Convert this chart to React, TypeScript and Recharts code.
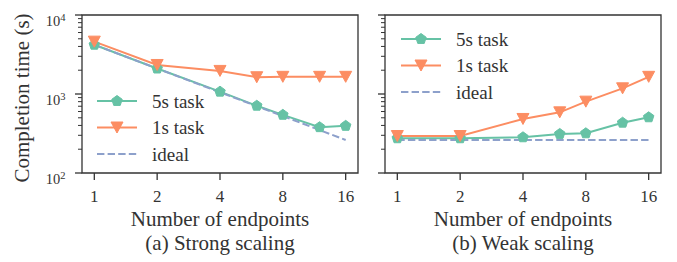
import { LineChart, Line, XAxis, YAxis, ReferenceArea } from "recharts";

// endpoints on the x axis
const endpoints = [1, 2, 4, 6, 8, 12, 16];
const xTicks = [1, 2, 4, 8, 16];
const yTicks = [100, 200, 300, 400, 500, 600, 700, 800, 900, 1000, 2000, 3000, 4000, 5000, 6000, 7000, 8000, 9000, 10000];
const yMajor: Record<number, string> = { 100: "2", 1000: "3", 10000: "4" };

// (a) strong scaling, seconds
const strong5s = [4200, 2100, 1070, 710, 545, 380, 395];
const strong1s = [4600, 2330, 1960, 1630, 1650, 1650, 1650];
const strongIdeal = [4200, 2100, 1050, 700, 525, 350, 262];

// (b) weak scaling, seconds
const weak5s = [275, 275, 283, 312, 318, 433, 507];
const weak1s = [294, 294, 483, 586, 800, 1180, 1650];
const weakIdeal = [262, 262, 262, 262, 262, 262, 262];

const FONT = '"Liberation Serif", "Times New Roman", serif';
const INK = "#333333";
const GREEN = "#66c2a5";
const ORANGE = "#fc8d62";
const BLUE = "#8da0cb";
const X_DOMAIN = [0.873, 18.33];
const PLOT_TOP = 15;
const PLOT_BOTTOM = 173;

const Pentagon = ({ cx, cy, r = 5.5, color }: any) => {
    const pts = [0, 1, 2, 3, 4]
        .map((k) => {
            const a = ((-90 + 72 * k) * Math.PI) / 180;
            return `${cx + r * Math.cos(a)},${cy + r * Math.sin(a)}`;
        })
        .join(" ");
    return <polygon points={pts} fill={color} stroke={color} strokeWidth={1} />;
};

const TriDown = ({ cx, cy, color }: any) => (
    <polygon
        points={`${cx - 6},${cy - 5.5} ${cx + 6},${cy - 5.5} ${cx},${cy + 5.5}`}
        fill={color}
        stroke={color}
        strokeWidth={1}
    />
);

const XTick = ({ x, payload }: any) => (
    <g>
        <line x1={x} x2={x} y1={PLOT_BOTTOM} y2={PLOT_BOTTOM + 7} stroke={INK} strokeWidth={1.3} />
        <text x={x} y={PLOT_BOTTOM + 28.5} textAnchor="middle" fontSize={17} fontFamily={FONT} fill={INK}>
            {payload.value}
        </text>
    </g>
);

const makeYTick = (x0: number, showLabel: boolean) => ({ y, payload }: any) => {
    const exp = yMajor[payload.value];
    return (
        <g>
            <line x1={x0} x2={x0 - (exp ? 7 : 4)} y1={y} y2={y} stroke={INK} strokeWidth={exp ? 1.3 : 1} />
            {exp && showLabel && (
                <text x={x0 - 16.5} y={y + 11} textAnchor="end" fontSize={14.5} fontFamily={FONT} fill={INK}>
                    10
                    <tspan dy={-5.5} fontSize={10.5}>
                        {exp}
                    </tspan>
                </text>
            )}
        </g>
    );
};

const Panel = ({ left, width, yAxisWidth, marginRight, s5, s1, ideal, showYLabels }: any) => {
    const rows = endpoints.map((x, i) => ({ x, s5: s5[i], s1: s1[i], ideal: ideal[i] }));
    const YTick = makeYTick(yAxisWidth, showYLabels);
    return (
        <div style={{ position: "absolute", left, top: 0 }}>
            <LineChart width={width} height={262} data={rows} margin={{ top: PLOT_TOP, right: marginRight, left: 0, bottom: 0 }}>
                <XAxis
                    dataKey="x"
                    type="number"
                    scale="log"
                    domain={X_DOMAIN}
                    ticks={xTicks}
                    allowDataOverflow
                    interval={0}
                    axisLine={false}
                    tickLine={false}
                    height={262 - PLOT_BOTTOM}
                    tick={(p: any) => <XTick {...p} />}
                />
                <YAxis
                    type="number"
                    scale="log"
                    domain={[100, 10000]}
                    ticks={yTicks}
                    allowDataOverflow
                    interval={0}
                    axisLine={false}
                    tickLine={false}
                    width={yAxisWidth}
                    tick={(p: any) => <YTick {...p} />}
                />
                <Line
                    dataKey="s5"
                    stroke={GREEN}
                    strokeWidth={2}
                    isAnimationActive={false}
                    dot={(p: any) => <Pentagon key={`p${p.index}`} cx={p.cx} cy={p.cy} color={GREEN} />}
                />
                <Line
                    dataKey="s1"
                    stroke={ORANGE}
                    strokeWidth={2}
                    isAnimationActive={false}
                    dot={(p: any) => <TriDown key={`t${p.index}`} cx={p.cx} cy={p.cy} color={ORANGE} />}
                />
                <Line dataKey="ideal" stroke={BLUE} strokeWidth={2} strokeDasharray="7.4 3.2" dot={false} isAnimationActive={false} />
                <ReferenceArea
                    x1={X_DOMAIN[0]}
                    x2={X_DOMAIN[1]}
                    y1={100}
                    y2={10000}
                    fill="none"
                    stroke={INK}
                    strokeWidth={1.3}
                    ifOverflow="visible"
                />
            </LineChart>
        </div>
    );
};

const LegendBox = ({ x, y }: any) => {
    const gap = 26.5;
    const items = [
        { label: "5s task", color: GREEN, mark: "p" },
        { label: "1s task", color: ORANGE, mark: "v" },
        { label: "ideal", color: BLUE, mark: "-" },
    ];
    return (
        <g>
            {items.map((it, i) => {
                const cy = y + i * gap;
                return (
                    <g key={it.label}>
                        <line
                            x1={x}
                            x2={x + 40}
                            y1={cy}
                            y2={cy}
                            stroke={it.color}
                            strokeWidth={2}
                            strokeDasharray={it.mark === "-" ? "7.4 3.2" : undefined}
                        />
                        {it.mark === "p" && <Pentagon cx={x + 20} cy={cy} color={it.color} />}
                        {it.mark === "v" && <TriDown cx={x + 20} cy={cy} color={it.color} />}
                        <text x={x + 55} y={cy + 6.5} fontSize={19} fontFamily={FONT} fill={INK}>
                            {it.label}
                        </text>
                    </g>
                );
            })}
        </g>
    );
};

export default function App() {
    return (
        <div style={{ position: "absolute", left: 0, top: 0, width: 677, height: 262, background: "#fff", fontFamily: FONT }}>
            <Panel left={0} width={362} yAxisWidth={82} marginRight={4} s5={strong5s} s1={strong1s} ideal={strongIdeal} showYLabels />
            <Panel left={362} width={313} yAxisWidth={23} marginRight={14} s5={weak5s} s1={weak1s} ideal={weakIdeal} showYLabels={false} />
            <svg width={677} height={262} style={{ position: "absolute", left: 0, top: 0, pointerEvents: "none" }}>
                <text x={29} y={98} transform="rotate(-90 29 98)" textAnchor="middle" fontSize={21} fontFamily={FONT} fill={INK}>
                    Completion time (s)
                </text>
                <text x={220} y={226} textAnchor="middle" fontSize={21} fontFamily={FONT} fill={INK}>
                    Number of endpoints
                </text>
                <text x={220} y={249.5} textAnchor="middle" fontSize={21} fontFamily={FONT} fill={INK}>
                    (a) Strong scaling
                </text>
                <text x={523} y={226} textAnchor="middle" fontSize={21} fontFamily={FONT} fill={INK}>
                    Number of endpoints
                </text>
                <text x={523} y={249.5} textAnchor="middle" fontSize={21} fontFamily={FONT} fill={INK}>
                    (b) Weak scaling
                </text>
                <LegendBox x={97} y={101} />
                <LegendBox x={401} y={39} />
            </svg>
        </div>
    );
}
